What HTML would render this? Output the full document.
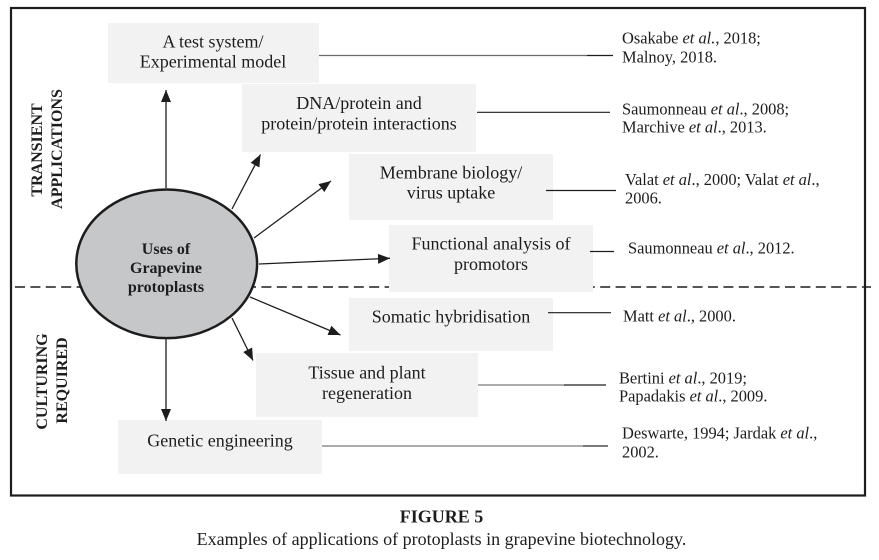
<!DOCTYPE html>
<html>
<head>
<meta charset="utf-8">
<style>
html,body{margin:0;padding:0;background:#fff;}
body{width:879px;height:560px;overflow:hidden;font-family:"Liberation Serif",serif;}
svg{display:block;}
svg text{font-family:"Liberation Serif","Times New Roman",serif;fill:#1d1d1d;}
.bx{font-family:"Liberation Serif",serif;font-size:18px;text-anchor:middle;}
.ct{font-family:"Liberation Serif",serif;font-size:16.4px;}
.el{font-family:"Liberation Serif",serif;font-size:16px;font-weight:bold;text-anchor:middle;}
.vt{font-family:"Liberation Serif",serif;font-size:16px;font-weight:bold;text-anchor:middle;}
</style>
</head>
<body>
<svg width="879" height="560" viewBox="0 0 879 560" xmlns="http://www.w3.org/2000/svg" font-family="Liberation Serif, serif">
<defs>
<marker id="ah" markerUnits="userSpaceOnUse" markerWidth="13" markerHeight="11" refX="12" refY="5" orient="auto">
<path d="M0,0 L12,5 L0,10 Z" fill="#1d1d1d"/>
</marker>
</defs>
<rect x="0" y="0" width="879" height="560" fill="#fff"/>
<rect x="11" y="8" width="854" height="487.5" fill="none" stroke="#1d1d1d" stroke-width="2.2"/>
<line x1="15" y1="287" x2="871" y2="287" stroke="#1d1d1d" stroke-width="1.5" stroke-dasharray="10 5.4"/>

<rect x="108" y="23" width="211" height="60" fill="#f2f2f2"/>
<rect x="242" y="84" width="234" height="68" fill="#f2f2f2"/>
<rect x="349" y="154" width="204" height="66" fill="#f2f2f2"/>
<rect x="389" y="225" width="204" height="67" fill="#f2f2f2"/>
<rect x="349" y="298" width="204" height="53" fill="#f2f2f2"/>
<rect x="256" y="353" width="222" height="64" fill="#f2f2f2"/>
<rect x="118" y="420" width="204" height="54" fill="#f2f2f2"/>

<ellipse cx="166.7" cy="263.8" rx="90.4" ry="74.3" fill="#c6c7c9" stroke="#1d1d1d" stroke-width="2.5"/>

<g stroke="#1d1d1d" stroke-width="1.3" fill="none" marker-end="url(#ah)">
<line x1="166" y1="188" x2="166" y2="90"/>
<line x1="232" y1="209" x2="260.5" y2="154.5"/>
<line x1="254" y1="238" x2="331" y2="181"/>
<line x1="259" y1="264" x2="390" y2="258.3"/>
<line x1="250" y1="297" x2="340.5" y2="335"/>
<line x1="232" y1="318" x2="253" y2="360.5"/>
<line x1="166" y1="339.5" x2="166" y2="421"/>
</g>

<g stroke-width="1.2" fill="none">
<line x1="319" y1="55.5" x2="587" y2="55.5" stroke="#6a6a6a"/>
<line x1="587" y1="55.5" x2="613" y2="55.5" stroke="#1d1d1d"/>
<line x1="477" y1="112.3" x2="610" y2="112.3" stroke="#1d1d1d"/>
<line x1="546" y1="190.5" x2="616" y2="190.5" stroke="#1d1d1d"/>
<line x1="590" y1="251.5" x2="614" y2="251.5" stroke="#1d1d1d"/>
<line x1="548" y1="312.7" x2="611" y2="312.7" stroke="#1d1d1d"/>
<line x1="478" y1="385" x2="564" y2="385" stroke="#7a7a7a"/>
<line x1="564" y1="385" x2="606" y2="385" stroke="#1d1d1d"/>
<line x1="322" y1="446" x2="583" y2="446" stroke="#7a7a7a"/>
<line x1="583" y1="446" x2="608" y2="446" stroke="#2a2a2a"/>
</g>

<g font-family="Liberation Serif, serif">
<text class="bx" x="213" y="47.3">A test system/</text>
<text class="bx" x="213" y="67.7">Experimental model</text>
<text class="bx" x="359" y="109">DNA/protein and</text>
<text class="bx" x="359" y="129.5">protein/protein interactions</text>
<text class="bx" x="451" y="178.3">Membrane biology/</text>
<text class="bx" x="451" y="198.5">virus uptake</text>
<text class="bx" x="491" y="249.3">Functional analysis of</text>
<text class="bx" x="491" y="270">promotors</text>
<text class="bx" x="451" y="322.3">Somatic hybridisation</text>
<text class="bx" x="367" y="378.3">Tissue and plant</text>
<text class="bx" x="367" y="399">regeneration</text>
<text class="bx" x="220" y="446.7">Genetic engineering</text>

<text class="el" x="166" y="254">Uses of</text>
<text class="el" x="166" y="273">Grapevine</text>
<text class="el" x="166" y="292">protoplasts</text>

<text class="vt" transform="translate(42,150) rotate(-90)" x="0" y="0">TRANSIENT</text>
<text class="vt" transform="translate(62,149) rotate(-90)" x="0" y="0">APPLICATIONS</text>
<text class="vt" transform="translate(47,381.5) rotate(-90)" x="0" y="0">CULTURING</text>
<text class="vt" transform="translate(67,380.5) rotate(-90)" x="0" y="0">REQUIRED</text>

<text class="ct" x="622" y="43.3">Osakabe <tspan font-style="italic">et al.</tspan>, 2018;</text>
<text class="ct" x="622" y="62.7">Malnoy, 2018.</text>
<text class="ct" x="622" y="114.3">Saumonneau <tspan font-style="italic">et al</tspan>., 2008;</text>
<text class="ct" x="622" y="132.7">Marchive <tspan font-style="italic">et al</tspan>., 2013.</text>
<text class="ct" x="625" y="185">Valat <tspan font-style="italic">et al</tspan>., 2000; Valat <tspan font-style="italic">et al</tspan>.,</text>
<text class="ct" x="625" y="203.3">2006.</text>
<text class="ct" x="628" y="253.3">Saumonneau <tspan font-style="italic">et al</tspan>., 2012.</text>
<text class="ct" x="623" y="321.7">Matt <tspan font-style="italic">et al</tspan>., 2000.</text>
<text class="ct" x="619" y="383.3">Bertini <tspan font-style="italic">et al</tspan>., 2019;</text>
<text class="ct" x="619" y="401.7">Papadakis <tspan font-style="italic">et al</tspan>., 2009.</text>
<text class="ct" x="622" y="438.3">Deswarte, 1994; Jardak <tspan font-style="italic">et al</tspan>.,</text>
<text class="ct" x="622" y="457.3">2002.</text>

<text x="441.5" y="522.7" font-size="18" font-weight="bold" text-anchor="middle">FIGURE 5</text>
<text x="441.5" y="545" font-size="18" text-anchor="middle">Examples of applications of protoplasts in grapevine biotechnology.</text>
</g>
</svg>
</body>
</html>
